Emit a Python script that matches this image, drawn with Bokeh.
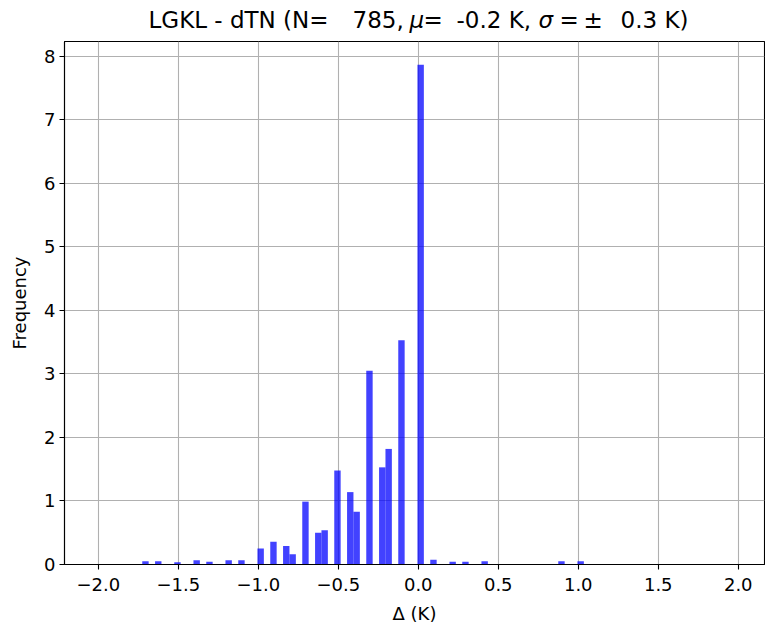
from bokeh.plotting import figure
from bokeh.models import Range1d, FixedTicker, Label
from bokeh.layouts import column
from bokeh.embed import file_html
from bokeh.resources import INLINE

# ---- data ----
bin_width = 0.04
bin_left = [-1.725, -1.645, -1.525, -1.405, -1.325, -1.205, -1.125, -1.005,
            -0.925, -0.845, -0.805, -0.725, -0.645, -0.605, -0.525, -0.445,
            -0.405, -0.325, -0.245, -0.205, -0.125, -0.005, 0.075, 0.195,
            0.275, 0.395, 0.875, 0.995]
frequency = [0.05, 0.05, 0.035, 0.065, 0.045, 0.065, 0.065, 0.25,
             0.36, 0.29, 0.16, 0.99, 0.50, 0.54, 1.48, 1.14,
             0.83, 3.05, 1.53, 1.82, 3.53, 7.87, 0.075, 0.045,
             0.045, 0.05, 0.05, 0.05]

x_ticks = [-2.0, -1.5, -1.0, -0.5, 0.0, 0.5, 1.0, 1.5, 2.0]
x_tick_labels = ["\u22122.0", "\u22121.5", "\u22121.0", "\u22120.5", "0.0", "0.5", "1.0", "1.5", "2.0"]
y_ticks = [0, 1, 2, 3, 4, 5, 6, 7, 8]

title_text = ["LGKL - dTN (N=", "785,", "\u03bc", "=", "-0.2 K,", "\u03c3", "=", "\u00b1", "0.3 K)"]
title_style = ["normal", "normal", "italic", "normal", "normal", "italic", "normal", "normal", "normal"]
title_x = [148, 352, 409, 423, 456, 538, 559, 583, 620]

x_label = "\u0394 (K)"
y_label = "Frequency"

FONT = "DejaVu Sans"
W = 765
TITLE_H = 41
MAIN_H = 628 - TITLE_H

# ---- title strip (separate figure so the pieces are not clipped) ----
t = figure(width=W, height=TITLE_H, output_backend="svg", toolbar_location=None,
           x_axis_type=None, y_axis_type=None, x_range=Range1d(0, 1), y_range=Range1d(0, 1),
           min_border=0, outline_line_color=None)
t.background_fill_color = "white"
t.border_fill_color = "white"
for txt, style, px in zip(title_text, title_style, title_x):
    t.add_layout(Label(x=px, y=19, x_units="canvas", y_units="canvas",
                       text=txt, text_font=FONT, text_font_size="23px",
                       text_font_style=style, text_color="black",
                       text_baseline="middle", text_align="left"))

# ---- main histogram ----
p = figure(width=W, height=MAIN_H, output_backend="svg", toolbar_location=None,
           x_range=Range1d(-2.211, 2.164), y_range=Range1d(0, 8.236),
           min_border_left=64, min_border_right=1, min_border_top=0, min_border_bottom=64)

right = [l + bin_width for l in bin_left]
p.quad(left=bin_left, right=right, bottom=0, top=frequency,
       fill_color="blue", fill_alpha=0.74, line_color=None)

for ax in (p.xaxis[0], p.yaxis[0]):
    ax.major_label_text_font = FONT
    ax.major_label_text_font_size = "18px"
    ax.major_label_text_color = "black"
    ax.axis_label_text_font = FONT
    ax.axis_label_text_font_size = "18px"
    ax.axis_label_text_font_style = "normal"
    ax.axis_label_text_color = "black"
    ax.minor_tick_line_color = None
    ax.major_tick_out = 5
    ax.major_tick_in = 0
    ax.major_tick_line_color = "black"
    ax.major_tick_line_width = 1.1
    ax.axis_line_color = "black"
    ax.axis_line_width = 1.1

p.xaxis.major_label_standoff = 8
p.yaxis.major_label_standoff = 4
p.xaxis.ticker = FixedTicker(ticks=x_ticks)
p.xaxis.major_label_overrides = {tk: s for tk, s in zip(x_ticks, x_tick_labels)}
p.yaxis.ticker = FixedTicker(ticks=y_ticks)
p.xaxis.axis_label = x_label
p.yaxis.axis_label = y_label
p.xaxis.axis_label_standoff = 9
p.yaxis.axis_label_standoff = 11

p.xgrid.grid_line_color = "#b0b0b0"
p.ygrid.grid_line_color = "#b0b0b0"
p.xgrid.grid_line_width = 1.1
p.ygrid.grid_line_width = 1.1

p.outline_line_color = "black"
p.outline_line_width = 1.1
p.outline_line_alpha = 1.0
p.background_fill_color = "white"
p.border_fill_color = "white"

layout = column(t, p, spacing=0)
open("out.html", "w").write(file_html(layout, INLINE))
